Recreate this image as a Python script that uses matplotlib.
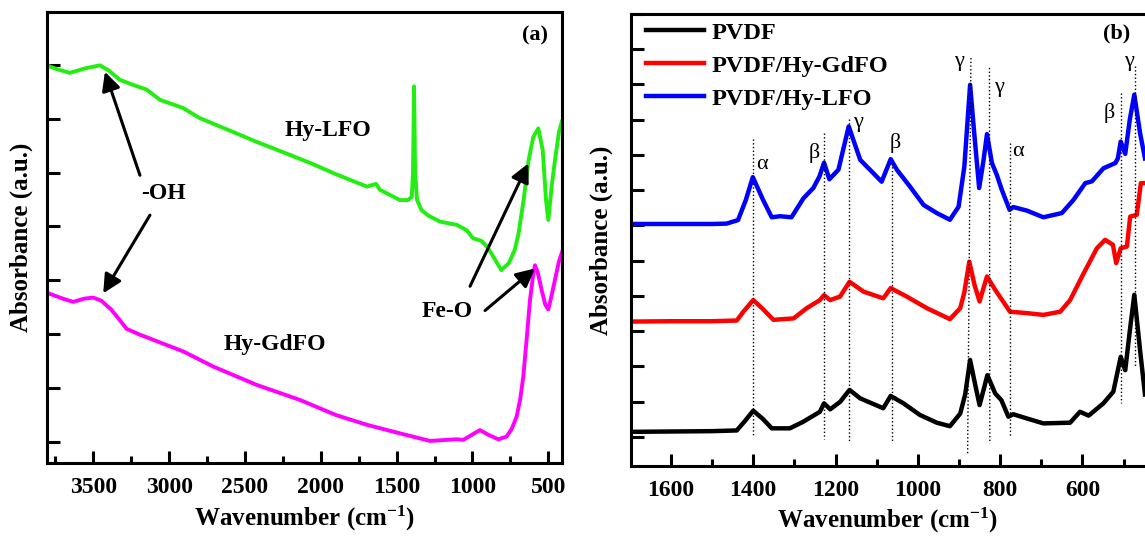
import matplotlib
matplotlib.use('Agg')
import matplotlib.pyplot as plt
from matplotlib.ticker import MultipleLocator

plt.rcParams['font.family'] = ['Liberation Serif', 'DejaVu Serif']
plt.rcParams['font.weight'] = 'bold'
plt.rcParams['mathtext.fontset'] = 'custom'
plt.rcParams['mathtext.rm'] = 'Liberation Serif:bold'
plt.rcParams['mathtext.bf'] = 'Liberation Serif:bold'
plt.rcParams['mathtext.default'] = 'bf'

# ---- panel (a) data ----
lfo_wn = [3805, 3740, 3654, 3560, 3456, 3400, 3324, 3230, 3148, 3060, 2909, 2797, 2600, 2423, 2250,
          2071, 1900, 1696, 1636, 1610, 1478, 1425, 1400, 1392, 1385, 1378, 1365, 1335, 1290, 1214,
          1104, 1038, 996, 939, 897, 850, 810, 760, 722, 696, 663, 630, 599, 566, 537, 515, 500,
          478, 456, 430, 410]
lfo_ab = [6.99, 6.92, 6.85, 6.93, 6.99, 6.90, 6.72, 6.62, 6.54, 6.35, 6.20, 6.01, 5.78, 5.57, 5.38,
          5.18, 4.97, 4.74, 4.79, 4.68, 4.49, 4.49, 4.55, 5.0, 6.6, 5.0, 4.49, 4.30, 4.20, 4.09,
          4.03, 3.93, 3.78, 3.73, 3.60, 3.38, 3.19, 3.32, 3.56, 3.87, 4.49, 5.23, 5.66, 5.82, 5.42,
          4.49, 4.12, 4.74, 5.23, 5.75, 5.95]

gdfo_wn = [3805, 3700, 3632, 3560, 3500, 3445, 3379, 3330, 3280, 3200, 3126, 2906, 2709, 2423, 2137,
           1900, 1697, 1478, 1280, 1104, 1060, 1000, 951, 900, 830, 775, 740, 709, 685, 665, 640,
           621, 600, 588, 570, 544, 520, 500, 480, 456, 430, 410]
gdfo_ab = [2.77, 2.66, 2.60, 2.66, 2.68, 2.62, 2.45, 2.28, 2.10, 2.00, 1.92, 1.68, 1.40, 1.06, 0.78,
           0.50, 0.32, 0.16, 0.02, 0.05, 0.04, 0.14, 0.22, 0.14, 0.05, 0.10, 0.25, 0.47, 0.8, 1.21, 2.0,
           2.63, 3.1, 3.28, 3.15, 2.82, 2.55, 2.46, 2.7, 3.01, 3.35, 3.52]

# ---- panel (b) data ----
pvdf_wn = [1697, 1600, 1500, 1440, 1420, 1400, 1376, 1355, 1311, 1278, 1238, 1228, 1213, 1189, 1166,
           1140, 1108, 1084, 1066, 1035, 995, 954, 922, 897, 885, 873, 861, 850, 841, 831, 812, 797,
           780, 768, 735, 695, 630, 606, 585, 549, 525, 507, 496, 485, 474, 460, 448]
pvdf_ab = [0.14, 0.15, 0.16, 0.18, 0.45, 0.74, 0.50, 0.24, 0.24, 0.43, 0.71, 0.95, 0.78, 0.99, 1.33,
           1.09, 0.93, 0.81, 1.16, 0.95, 0.62, 0.40, 0.30, 0.66, 1.2, 2.18, 1.5, 0.90, 1.3, 1.75, 1.23,
           1.04, 0.57, 0.64, 0.52, 0.38, 0.40, 0.71, 0.60, 0.95, 1.28, 2.27, 1.89, 3.0, 4.03, 2.46, 1.2]

pgd_wn = [1697, 1600, 1500, 1440, 1424, 1400, 1376, 1351, 1302, 1270, 1238, 1228, 1213, 1189, 1166,
          1132, 1084, 1066, 1027, 978, 922, 897, 887, 875, 862, 850, 841, 832, 812, 776, 735, 695,
          654, 630, 597, 565, 545, 526, 518, 507, 492, 484, 468, 458, 448]
pgd_ab = [3.27, 3.28, 3.28, 3.30, 3.55, 3.88, 3.62, 3.32, 3.36, 3.65, 3.88, 4.02, 3.88, 3.98, 4.40,
          4.12, 3.93, 4.22, 3.98, 3.65, 3.34, 3.65, 4.1, 4.97, 4.3, 3.84, 4.2, 4.55, 4.17, 3.55, 3.51,
          3.46, 3.55, 3.88, 4.64, 5.35, 5.59, 5.45, 4.93, 5.35, 5.40, 6.25, 6.3, 7.20, 7.2]

plfo_wn = [1697, 1600, 1500, 1465, 1437, 1418, 1401, 1376, 1355, 1335, 1307, 1278, 1254, 1239, 1228,
           1215, 1193, 1168, 1140, 1108, 1088, 1066, 1051, 1019, 986, 954, 922, 901, 887, 873, 863,
           851, 841, 832, 820, 808, 796, 777, 768, 735, 695, 650, 622, 593, 577, 549, 520, 514, 507,
           496, 485, 474, 460, 448]
plfo_ab = [6.04, 6.04, 6.04, 6.05, 6.15, 6.72, 7.37, 6.72, 6.23, 6.26, 6.23, 6.77, 7.06, 7.39, 7.78,
           7.31, 7.58, 8.81, 7.86, 7.48, 7.24, 7.88, 7.58, 7.10, 6.58, 6.35, 6.16, 6.53, 7.67, 9.99, 8.62,
           7.06, 7.8, 8.59, 7.77, 7.43, 7.01, 6.44, 6.52, 6.42, 6.23, 6.35, 6.72, 7.20, 7.25, 7.62, 7.77,
           7.9, 8.38, 8.03, 9.0, 9.71, 8.62, 7.9]

# dotted guide lines: (wn top, y top, wn bottom, y bottom)
guides = [(1400, 8.45, 1400, 0.05), (1228, 8.62, 1228, -0.05), (1168, 9.02, 1168, -0.14),
          (1064, 7.77, 1064, -0.14), (871, 10.75, 879, -0.47), (826, 10.47, 825, -0.19),
          (776, 8.33, 776, 0.0), (506, 9.76, 506, 0.95), (473, 10.51, 473, 2.0)]
greek = [('α', 1379, 7.72), ('β', 1252, 8.05), ('γ', 1145, 8.92), ('β', 1055, 8.33),
         ('γ', 899, 10.65), ('γ', 804, 9.90), ('α', 756, 8.10), ('β', 534, 9.19), ('γ', 488, 10.65)]

fig = plt.figure(figsize=(11.45, 5.36), dpi=100)
ax1 = fig.add_axes([0.041, 0.1362, 0.4498, 0.8414])
ax2 = fig.add_axes([0.5511, 0.1312, 0.4489, 0.8427])

ax1.plot(lfo_wn, lfo_ab, color='#22ee11', lw=2.8)
ax1.plot(gdfo_wn, gdfo_ab, color='#ff00ff', lw=2.8)
ax1.set_xlim(3805, 410)
ax1.set_ylim(-0.39, 7.98)

ax1.text(1953, 5.79, 'Hy-LFO', fontsize=17, ha='center', va='center')
ax1.text(2304, 1.80, 'Hy-GdFO', fontsize=17, ha='center', va='center')
ax1.text(3034, 4.61, '-OH', fontsize=17, ha='center', va='center')
ax1.text(1165, 2.42, 'Fe-O', fontsize=17, ha='center', va='center')
ax1.text(588, 7.55, '(a)', fontsize=16, ha='center', va='center')
arr = dict(arrowstyle='-|>', lw=2.2, color='k', mutation_scale=28, shrinkA=0, shrinkB=0)
ax1.annotate('', xy=(3423, 6.87), xytext=(3192, 4.95), arrowprops=arr)
ax1.annotate('', xy=(3434, 2.76), xytext=(3126, 4.21), arrowprops=arr)
ax1.annotate('', xy=(632, 5.17), xytext=(1016, 2.89), arrowprops=arr)
ax1.annotate('', xy=(588, 3.22), xytext=(917, 2.44), arrowprops=arr)

ax1.xaxis.set_major_locator(MultipleLocator(500))
ax1.xaxis.set_minor_locator(MultipleLocator(250))
ax1.yaxis.set_major_locator(MultipleLocator(1))

lwb = 3.2
ax2.plot(pvdf_wn, pvdf_ab, color='black', lw=lwb, label='PVDF')
ax2.plot(pgd_wn, pgd_ab, color='#ff0000', lw=lwb, label='PVDF/Hy-GdFO')
ax2.plot(plfo_wn, plfo_ab, color='#0000ff', lw=lwb, label='PVDF/Hy-LFO')
for x0, y0, x1, y1 in guides:
    ax2.plot([x0, x1], [y0, y1], color='black', lw=1.0, ls=':')
for s, x, y in greek:
    ax2.text(x, y, s, fontsize=16, ha='center', va='center', fontweight='normal')
ax2.text(518, 11.46, '(b)', fontsize=16, ha='center', va='center')
ax2.set_xlim(1697, 448)
ax2.set_ylim(-0.82, 12.0)
ax2.xaxis.set_major_locator(MultipleLocator(200))
ax2.xaxis.set_minor_locator(MultipleLocator(100))
ax2.yaxis.set_major_locator(MultipleLocator(1))
ax2.spines['right'].set_visible(False)
ax2.legend(loc='upper left', frameon=False, fontsize=17.5, handlelength=2.4, handletextpad=0.3,
           labelspacing=0.45, borderaxespad=0.2, bbox_to_anchor=(0.0, 1.015))

for ax in (ax1, ax2):
    for sp in ax.spines.values():
        sp.set_linewidth(2.2)
    ax.tick_params(which='both', direction='in', width=2.2, top=False, right=False,
                   labelleft=False, labelsize=17, pad=10)
    ax.tick_params(which='major', length=9)
    ax.tick_params(which='minor', length=5)
    ax.set_xlabel('Wavenumber (cm$^{-1}$)', fontsize=18, fontweight='bold', labelpad=4)
    ax.set_ylabel('Absorbance (a.u.)', fontsize=18, fontweight='bold')

ax1.yaxis.set_label_coords(-0.028, 0.5)
ax2.yaxis.set_label_coords(-0.036, 0.5)

fig.savefig('out.png', dpi=100)
